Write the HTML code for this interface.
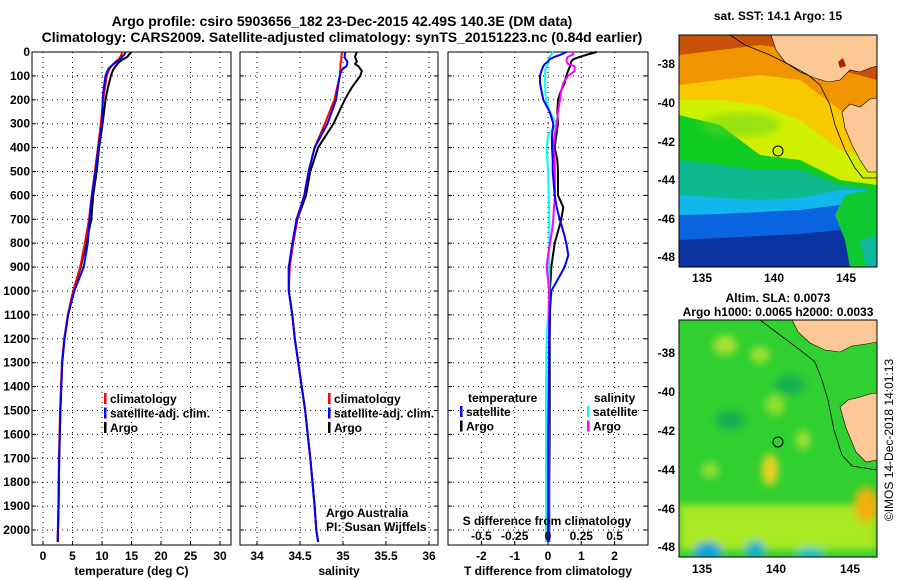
<!DOCTYPE html>
<html><head><meta charset="utf-8"><style>
html,body{margin:0;padding:0;background:#fff;}
svg{display:block;font-family:"Liberation Sans",Arial,sans-serif;}
.b{font-weight:bold;font-size:12px;}
.t{font-weight:bold;font-size:14px;}
</style></head><body>
<svg id="fig" width="900" height="580" viewBox="0 0 900 580">
<rect width="900" height="580" fill="#fff"/>
<text class="t" x="342" y="26" text-anchor="middle">Argo profile: csiro 5903656_182 23-Dec-2015 42.49S 140.3E (DM data)</text>
<text class="t" x="342" y="42" text-anchor="middle">Climatology: CARS2009. Satellite-adjusted climatology: synTS_20151223.nc (0.84d earlier)</text>

<!-- SST map -->
<g>
<defs>
<clipPath id="c1"><rect x="679" y="35" width="198" height="232"/></clipPath>
<clipPath id="c2"><rect x="679" y="320" width="198" height="237"/></clipPath>
<filter id="bl"><feGaussianBlur stdDeviation="4"/></filter>
</defs>
<g clip-path="url(#c1)">
<rect x="679" y="35" width="198" height="232" fill="#0a32a0"/>
<polygon points="679,35 877,35 877,230 840,230 800,234 760,236 720,238 679,240" fill="#0a64e0"/>
<polygon points="679,35 877,35 877,205 840,205 800,210 760,212 720,214 679,215" fill="#10b8ec"/>
<polygon points="679,35 877,35 877,190 840,190 800,198 760,200 720,198 679,195" fill="#10b890"/>
<polygon points="679,35 877,35 877,190 840,185 800,170 760,170 720,165 679,160" fill="#10cc20"/>
<polygon points="679,35 877,35 877,185 840,180 800,160 760,155 720,125 679,115" fill="#d0f000"/>
<polygon points="679,35 877,35 877,160 840,150 800,120 760,105 720,100 679,100" fill="#f8c800"/>
<polygon points="679,35 877,35 877,120 840,110 800,80 760,75 720,80 679,85" fill="#f09400"/>
<polygon points="679,35 877,35 877,80 840,70 800,50 760,45 720,50 679,55" fill="#c85008"/>
<polygon points="845,195 877,188 877,267 850,267 845,240 835,215" fill="#10c830"/>
<polygon points="860,240 877,235 877,267 866,267" fill="#10b8a0"/>
<ellipse cx="740" cy="125" rx="40" ry="12" fill="#60d820" opacity="0.5" filter="url(#bl)"/>
<polygon points="771,35 776,50 785,62 800,72 815,78 828,82 840,80 850,70 860,72 870,68 877,66 877,35" fill="#fbc896" stroke="#000" stroke-width="0.6"/>
<polygon points="842,112 850,104 860,107 870,99 877,98 877,172 868,172 860,160 852,145 845,128" fill="#fbc896" stroke="#000" stroke-width="0.6"/>
<polygon points="838,62 843,58 846,66 840,68" fill="#b02000"/>
<polyline points="730,35 745,45 770,55 790,65 808,75 820,85 830,105 835,125 845,150 855,168 863,178 877,178" fill="none" stroke="#000" stroke-width="0.8"/>
<circle cx="778" cy="151" r="5" fill="none" stroke="#000" stroke-width="1"/>
</g>
<rect x="679" y="35" width="198" height="232" fill="none" stroke="#000"/>
<text class="b" x="778" y="20" text-anchor="middle">sat. SST: 14.1 Argo: 15</text>
<g class="b" text-anchor="end">
<text x="675" y="68">-38</text><text x="675" y="107">-40</text><text x="675" y="146">-42</text><text x="675" y="184">-44</text><text x="675" y="223">-46</text><text x="675" y="261">-48</text></g>
<g class="b" text-anchor="middle">
<text x="702" y="282">135</text><text x="774" y="282">140</text><text x="846" y="282">145</text></g>
</g>

<!-- SLA map -->
<g>
<g clip-path="url(#c2)">
<rect x="679" y="320" width="198" height="237" fill="#30d030"/>
<g filter="url(#bl)">
<rect x="679" y="505" width="198" height="45" fill="#c8f020" opacity="0.8"/>
<ellipse cx="770" cy="470" rx="8" ry="16" fill="#f0d020"/>
<ellipse cx="866" cy="505" rx="12" ry="18" fill="#f0b010"/>
<ellipse cx="708" cy="552" rx="14" ry="10" fill="#10a0e0"/>
<ellipse cx="755" cy="550" rx="10" ry="9" fill="#10b0d0"/>
<ellipse cx="810" cy="555" rx="14" ry="8" fill="#10c0c0"/>
<ellipse cx="725" cy="345" rx="12" ry="10" fill="#a8e030"/>
<ellipse cx="775" cy="405" rx="10" ry="10" fill="#90e030"/>
<ellipse cx="803" cy="440" rx="7" ry="10" fill="#a0e030"/>
<ellipse cx="710" cy="470" rx="9" ry="8" fill="#90e030"/>
<ellipse cx="760" cy="355" rx="10" ry="8" fill="#a0e030"/>
<ellipse cx="790" cy="385" rx="15" ry="10" fill="#18b050"/>
<ellipse cx="730" cy="420" rx="15" ry="10" fill="#18b050"/>
</g>
<polygon points="792,320 798,332 810,343 825,350 840,352 852,346 866,344 877,342 877,320" fill="#fbc896" stroke="#000" stroke-width="0.6"/>
<polygon points="840,407 848,400 860,397 870,394 877,393 877,460 866,462 856,452 846,428" fill="#fbc896" stroke="#000" stroke-width="0.6"/>
<polyline points="760,320 780,335 800,350 815,362 822,380 828,400 834,430 842,455 852,466 877,470" fill="none" stroke="#000" stroke-width="0.8"/>
<circle cx="778" cy="442" r="5" fill="none" stroke="#000" stroke-width="1"/>
</g>
<rect x="679" y="320" width="198" height="237" fill="none" stroke="#000"/>
<text class="b" x="778" y="302" text-anchor="middle">Altim. SLA: 0.0073</text>
<text class="b" x="778" y="316" text-anchor="middle">Argo h1000: 0.0065 h2000: 0.0033</text>
<g class="b" text-anchor="end">
<text x="675" y="357">-38</text><text x="675" y="396">-40</text><text x="675" y="435">-42</text><text x="675" y="474">-44</text><text x="675" y="513">-46</text><text x="675" y="551">-48</text></g>
<g class="b" text-anchor="middle">
<text x="702" y="573">135</text><text x="776" y="573">140</text><text x="850" y="573">145</text></g>
</g>
<text x="893" y="440" font-size="12" text-anchor="middle" transform="rotate(-90 893 440)">©IMOS 14-Dec-2018 14:01:13</text>

<g id="charts"></g>
</svg>
<script>
// ---- data ----
const pDepth = [0,10,20,30,40,50,60,70,80,100,150,200,300,400,500,600,700,800,900,1000,1100,1200,1300,1400,1500,1600,1700,1800,1900,2000,2050];
const tClim = [13.4,13.3,13.1,12.8,12.3,11.9,11.6,11.3,11.1,10.8,10.5,10.2,9.8,9.3,8.8,8.25,7.8,7.1,6.3,5.1,4.2,3.6,3.2,3.05,2.9,2.8,2.7,2.65,2.6,2.5,2.45];
const tArgo = [15.0,14.6,14.3,13.6,13.0,12.6,12.3,12.0,11.8,11.5,11.0,10.6,10.1,9.5,9.1,8.5,8.2,7.3,6.4,5.15,4.25,3.65,3.25,3.1,2.95,2.85,2.75,2.7,2.65,2.55,2.5];
const tSat = [14.0,13.8,13.4,13.1,12.5,12.0,11.5,11.1,10.9,10.6,10.3,10.1,10.0,9.4,8.9,8.3,7.9,7.6,6.9,5.3,4.25,3.65,3.25,3.1,2.95,2.85,2.75,2.7,2.65,2.55,2.5];
const sClim = [34.985,34.985,34.98,34.98,34.975,34.97,34.97,34.97,34.965,34.965,34.93,34.9,34.79,34.67,34.6,34.55,34.47,34.42,34.38,34.37,34.41,34.44,34.48,34.52,34.56,34.59,34.62,34.645,34.67,34.69,34.71];
const sArgo = [35.16,35.15,35.14,35.15,35.16,35.14,35.18,35.2,35.22,35.2,35.1,35.02,34.89,34.71,34.62,34.57,34.47,34.42,34.37,34.37,34.41,34.44,34.48,34.52,34.56,34.59,34.62,34.645,34.67,34.69,34.71];
const sSat = [35.03,35.02,35.02,35.03,35.05,35.05,35.04,35.0,34.98,34.96,34.94,34.92,34.82,34.67,34.6,34.55,34.46,34.41,34.37,34.37,34.41,34.44,34.48,34.52,34.56,34.59,34.62,34.645,34.67,34.69,34.71];
const dDepth = [0,10,20,30,40,50,60,80,100,130,160,200,250,300,350,400,450,500,600,650,700,750,800,850,900,950,1000,1100,1200,1400,1600,1800,2050];
const dTArgo = [1.46,1.2,0.96,0.76,0.7,0.68,0.66,0.6,0.55,0.5,0.4,0.3,0.28,0.3,0.25,0.2,0.28,0.3,0.3,0.46,0.4,0.3,0.2,0.15,0.1,0.08,0.05,0.06,0.05,0.05,0.05,0.04,0.04];
const dTSat = [0.56,0.4,0.2,0.05,0.0,-0.1,-0.14,-0.2,-0.24,-0.24,-0.2,-0.14,0.05,0.16,0.12,0.12,0.14,0.14,0.2,0.26,0.35,0.46,0.55,0.61,0.5,0.3,0.1,0.05,0.04,0.02,0.0,0.0,0.0];
const dSArgo = [0.18,0.19,0.15,0.14,0.14,0.15,0.2,0.2,0.15,0.115,0.1,0.09,0.075,0.065,0.05,0.04,0.05,0.052,0.052,0.045,0.04,0.03,0.015,0,-0.01,0,0.008,0.008,0.008,0.005,0.005,0.005,0.005];
const dSSat = [0.04,0.025,0.012,0.003,0.003,0,-0.012,-0.022,-0.022,-0.022,-0.02,-0.015,0.012,0.065,0,-0.01,-0.005,0,0.005,0.008,0.01,0.01,0.01,0.01,0.01,0.01,0.01,0,-0.01,-0.015,-0.015,-0.015,-0.015];
const depthTicks = [0,100,200,300,400,500,600,700,800,900,1000,1100,1200,1300,1400,1500,1600,1700,1800,1900,2000];
const tTicks = [0,5,10,15,20,25,30];
const sTicks = [34,34.5,35,35.5,36];
const sTickLabels = ['34','34.5','35','35.5','36'];
const dTTicks = [-2,-1,0,1,2];
const dSTicks = [-0.5,-0.25,0,0.25,0.5];
const dSTickLabels = ['-0.5','-0.25','0','0.25','0.5'];

// ---- axes ----
const NS='http://www.w3.org/2000/svg';
const root=document.getElementById('charts');
const top0=52, bot=545;
const yD=d=>top0+d*0.239;
const xT=v=>43+v*5.9;
const xS=v=>257+(v-34)*86;
const xDT=v=>548+v*33.3;
const xDS=v=>548+v*4*33.3;
function mk(tag,attrs,parent){const e=document.createElementNS(NS,tag);for(const k in attrs)e.setAttribute(k,attrs[k]);(parent||root).appendChild(e);return e;}
function txt(x,y,s,anchor,parent,cls){const e=mk('text',{x:x,y:y,'text-anchor':anchor||'middle',class:cls||'b'},parent);e.textContent=s;return e;}

const panels=[
 {name:'temperature-panel',x0:32,x1:231,ticks:tTicks,labels:tTicks.map(String),fx:xT,title:'temperature (deg C)'},
 {name:'salinity-panel',x0:240,x1:438,ticks:sTicks,labels:sTickLabels,fx:xS,title:'salinity'},
 {name:'difference-panel',x0:448,x1:648,ticks:dTTicks,labels:dTTicks.map(String),fx:xDT,title:'T difference from climatology'}
];
panels.forEach((p,i)=>{
 const g=mk('g',{});
 
 
 depthTicks.forEach(d=>{ if(d>0){const l=mk('line',{x1:p.x0,x2:p.x1,y1:yD(d),y2:yD(d),stroke:'#000','stroke-dasharray':'1,4'},g);
  
  }
  mk('line',{x1:p.x0,x2:p.x0+4,y1:yD(d),y2:yD(d),stroke:'#000'},g);
  mk('line',{x1:p.x1,x2:p.x1-4,y1:yD(d),y2:yD(d),stroke:'#000'},g);
 });
 p.ticks.forEach((v,j)=>{const x=p.fx(v);
  const l=mk('line',{x1:x,x2:x,y1:top0,y2:bot,stroke:'#000','stroke-dasharray':'1,4'},g);
  
  
  mk('line',{x1:x,x2:x,y1:bot,y2:bot-4,stroke:'#000'},g);
  const t=txt(x,560,p.labels[j],'middle',g);
  
  
 });
 const tt=txt((p.x0+p.x1)/2,575,p.title,'middle',g);
 
 
 const fr=mk('rect',{x:p.x0,y:top0,width:p.x1-p.x0,height:bot-top0,fill:'none',stroke:'#000'},g);
 
 
 p.g=g;
});
depthTicks.forEach(d=>{const t=txt(30,yD(d)+4,String(d),'end');
 
 });

function line(xs,ds,fx,color,name,parent){
 const pts=xs.map((v,i)=>fx(v).toFixed(1)+','+yD(ds[i]).toFixed(1)).join(' ');
 const e=mk('polyline',{points:pts,fill:'none',stroke:color,'stroke-width':2,'stroke-linejoin':'round'},parent);
 
 
}
line(tArgo,pDepth,xT,'#000','temp-argo-line',panels[0].g);
line(tClim,pDepth,xT,'#f00','temp-climatology-line',panels[0].g);
line(tSat,pDepth,xT,'#00f','temp-satellite-line',panels[0].g);
line(sArgo,pDepth,xS,'#000','sal-argo-line',panels[1].g);
line(sClim,pDepth,xS,'#f00','sal-climatology-line',panels[1].g);
line(sSat,pDepth,xS,'#00f','sal-satellite-line',panels[1].g);
line(dTArgo,dDepth,xDT,'#000','dT-argo-line',panels[2].g);
line(dSSat,dDepth,xDS,'#0ff','dS-satellite-line',panels[2].g);
line(dSArgo,dDepth,xDS,'#f0f','dS-argo-line',panels[2].g);
line(dTSat,dDepth,xDT,'#00f','dT-satellite-line',panels[2].g);

const sl=txt(547,525,'S difference from climatology','middle',panels[2].g);


dSTicks.forEach((v,j)=>{const t=txt(xDS(v),540,dSTickLabels[j],'middle',panels[2].g);
 
 });

function legend(x,y,items,parent,name){
 const g=mk('g',{},parent);
 
 
 items.forEach((it,i)=>{const yy=y+i*14.5;
  if(it[1]) mk('rect',{x:x,y:yy-10,width:2.5,height:11,fill:it[1]},g);
  const t=txt(x+(it[1]?6:0),yy,it[0],'start',g);
  
  
 });
}
legend(104,403,[['climatology','#f00'],['satellite-adj. clim.','#00f'],['Argo','#000']],panels[0].g,'temp-legend');
legend(328,403,[['climatology','#f00'],['satellite-adj. clim.','#00f'],['Argo','#000']],panels[1].g,'sal-legend');
legend(468,402,[['temperature',null]],panels[2].g,'dT-legend-title');
legend(460,416,[['satellite','#00f'],['Argo','#000']],panels[2].g,'dT-legend');
legend(594,402,[['salinity',null]],panels[2].g,'dS-legend-title');
legend(587,416,[['satellite','#0ff'],['Argo','#f0f']],panels[2].g,'dS-legend');
const a1=txt(326,517,'Argo Australia','start',panels[1].g,'');
a1.setAttribute('font-size','11');


const a2=txt(326,531,'PI: Susan Wijffels','start',panels[1].g,'');
a2.setAttribute('font-size','11');


</script>
</body></html>
